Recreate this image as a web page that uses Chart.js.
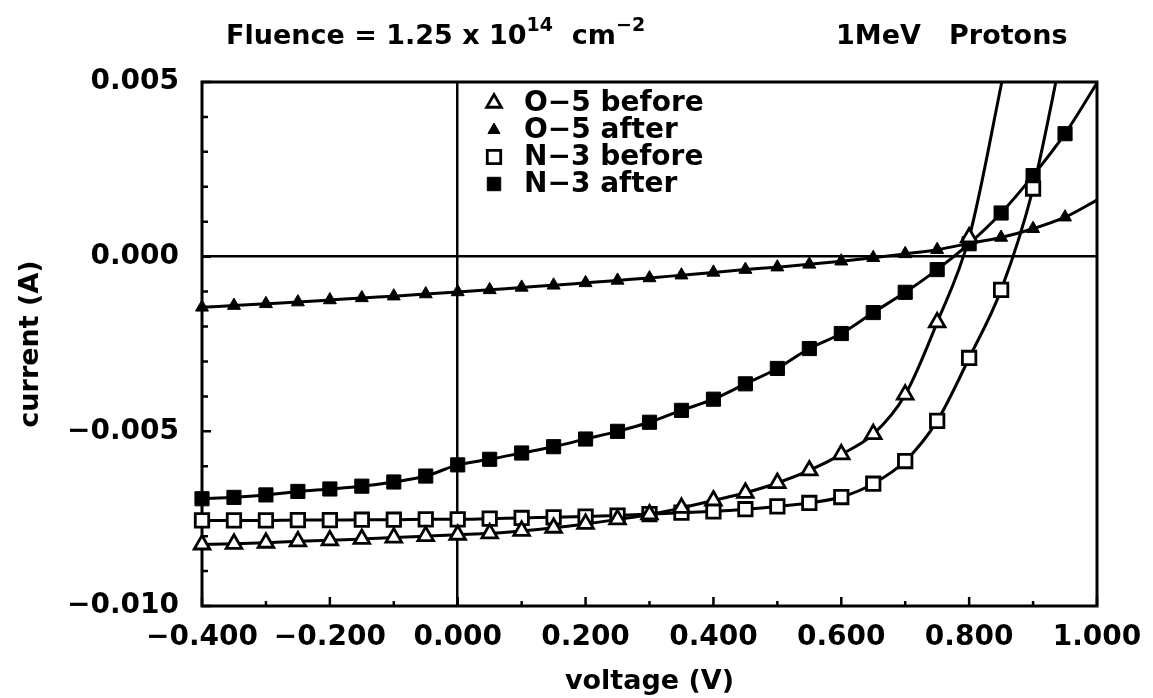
<!DOCTYPE html>
<html>
<head>
<meta charset="utf-8">
<title>I-V curves, 1MeV protons</title>
<script src="https://cdn.jsdelivr.net/npm/chart.js@4.4.1/dist/chart.umd.min.js"></script>
<style>
  html, body { margin: 0; padding: 0; background: #fff; }
  #wrap { position: relative; width: 1153px; height: 698px; }
  #wrap canvas { position: absolute; left: 0; top: 0; }
  .title { position: absolute; top: 19px; font: bold 27px "DejaVu Sans", sans-serif; color: #000; white-space: pre; z-index: 2; }
  .title sup { font-size: 19px; vertical-align: 0; position: relative; top: -13px; }
</style>
</head>
<body>
<div id="wrap">
  <canvas id="ivChart"></canvas>
  <div class="title" style="left:226px">Fluence = 1.25 x 10<sup>14</sup>  cm<sup>−2</sup></div>
  <div class="title" style="left:836px">1MeV   Protons</div>
</div>
<script>
// ── Data (current in A) ────────────────────────────────────────────────────

const VOLTAGE = [
  -0.40, -0.35, -0.30, -0.25, -0.20, -0.15, -0.10, -0.05, 0.00, 0.05,
   0.10,  0.15,  0.20,  0.25,  0.30,  0.35,  0.40,  0.45, 0.50, 0.55,
   0.60,  0.65,  0.70,  0.75,  0.80,  0.85,  0.90,  0.95, 1.00,
];

const O5_BEFORE = [
  -0.00824, -0.00822, -0.00819, -0.00815, -0.00812, -0.00808, -0.00804, -0.00800, -0.00796, -0.00792,
  -0.00785, -0.00776, -0.00765, -0.00752, -0.00738, -0.00719, -0.00698, -0.00676, -0.00648, -0.00612,
  -0.00566, -0.00508, -0.00395, -0.00188,  0.00055,  0.00490,  0.00950, null, null,
];

const O5_AFTER = [
  -0.00145, -0.00140, -0.00135, -0.00130, -0.00124, -0.00118, -0.00113, -0.00107, -0.00101, -0.00095,
  -0.00088, -0.00082, -0.00075, -0.00068, -0.00061, -0.00053, -0.00045, -0.00037, -0.00030, -0.00022,
  -0.00013, -0.00003,  0.00008,  0.00020,  0.00038,  0.00055,  0.00080,  0.00113,  0.00162,
];

const N3_BEFORE = [
  -0.00755, -0.00755, -0.00755, -0.00754, -0.00754, -0.00753, -0.00753, -0.00752, -0.00752, -0.00750,
  -0.00748, -0.00746, -0.00744, -0.00741, -0.00737, -0.00733, -0.00729, -0.00723, -0.00715, -0.00705,
  -0.00688, -0.00650, -0.00585, -0.00470, -0.00290, -0.00095,  0.00195,  0.00630, null,
];

const N3_AFTER = [
  -0.00693, -0.00689, -0.00682, -0.00672, -0.00665, -0.00657, -0.00645, -0.00628, -0.00596, -0.00580,
  -0.00562, -0.00544, -0.00522, -0.00500, -0.00474, -0.00440, -0.00408, -0.00364, -0.00320, -0.00263,
  -0.00220, -0.00160, -0.00102, -0.00037,  0.00037,  0.00125,  0.00232,  0.00352,  0.00497,
];

// last voltage carrying a marker; the fitted curve goes on past it
const LAST_MARKED = { o5b: 0.80, o5a: 0.95, n3b: 0.90, n3a: 0.95 };

const FONT = '"DejaVu Sans", sans-serif';
const BLACK = '#000';

const toPoints = arr => VOLTAGE.map((v, i) => ({ x: v, y: arr[i] })).filter(p => p.y !== null);
const minus = s => s.replace('-', '\u2212');
const isZero = v => Math.abs(v) < 1e-9;

function series(label, values, style, filled, radius, lastMarked) {
  return {
    label,
    data: toPoints(values),
    borderColor: BLACK,
    borderWidth: 3,
    cubicInterpolationMode: 'monotone',
    pointStyle: style,
    pointBackgroundColor: filled ? BLACK : '#fff',
    pointBorderColor: BLACK,
    pointBorderWidth: filled ? 1 : 2.8,
    pointRadius: ctx => (VOLTAGE[ctx.dataIndex] > lastMarked + 1e-9 ? 0 : radius),
    pointHoverRadius: 0,
    clip: { left: 14, top: 0, right: 1, bottom: 0 },
  };
}

// ── Frame + inward tick marks ──────────────────────────────────────────────

const frameTicks = {
  id: 'frameTicks',
  beforeDatasetsDraw(chart) {
    const { ctx, chartArea: a, scales: { x, y } } = chart;
    ctx.save();
    ctx.strokeStyle = BLACK;
    ctx.lineWidth = 2.5;
    ctx.beginPath();
    x.ticks.forEach(t => {
      const px = x.getPixelForValue(t.value);
      ctx.moveTo(px, a.bottom);
      ctx.lineTo(px, a.bottom - (t.label ? 9 : 5));
    });
    y.ticks.forEach(t => {
      const py = y.getPixelForValue(t.value);
      ctx.moveTo(a.left, py);
      ctx.lineTo(a.left + (t.label ? 9 : 6), py);
    });
    ctx.stroke();
    ctx.lineWidth = 3;
    ctx.strokeRect(a.left, a.top, a.right - a.left, a.bottom - a.top);
    ctx.restore();
  },
};

// ── Legend inside the plot, top centre ─────────────────────────────────────

function legendMarker(ctx, style, filled, cx, cy, r) {
  ctx.beginPath();
  if (style === 'triangle') {
    ctx.moveTo(cx, cy - r);
    ctx.lineTo(cx + r * 0.866, cy + r / 2);
    ctx.lineTo(cx - r * 0.866, cy + r / 2);
    ctx.closePath();
  } else {
    const h = r * 0.707;
    ctx.rect(cx - h, cy - h, 2 * h, 2 * h);
  }
  ctx.fillStyle = filled ? BLACK : '#fff';
  ctx.fill();
  ctx.lineWidth = filled ? 1 : 2.8;
  ctx.strokeStyle = BLACK;
  ctx.stroke();
}

const insideLegend = {
  id: 'insideLegend',
  afterDatasetsDraw(chart) {
    const { ctx, chartArea: a } = chart;
    ctx.save();
    ctx.font = `bold 28px ${FONT}`;
    ctx.textBaseline = 'middle';
    ctx.textAlign = 'left';
    chart.data.datasets.forEach((ds, i) => {
      const cy = a.top + 21 + i * 27;
      const cx = a.left + 292;
      const filled = ds.pointBackgroundColor === BLACK;
      legendMarker(ctx, ds.pointStyle, filled, cx, cy, ds.pointStyle === 'triangle' ? (filled ? 7 : 8.5) : 9.5);
      ctx.fillStyle = BLACK;
      ctx.fillText(ds.label, cx + 30, cy + 1);
    });
    ctx.restore();
  },
};

// ── Chart ──────────────────────────────────────────────────────────────────

const zeroGrid = {
  drawTicks: false,
  lineWidth: 2.5,
  color: ctx => (ctx.tick && isZero(ctx.tick.value) ? BLACK : 'rgba(0,0,0,0)'),
};
const tickFont = { family: FONT, size: 28, weight: 'bold' };
const titleFont = { family: FONT, size: 27, weight: 'bold' };

new Chart(document.getElementById('ivChart'), {
  type: 'line',
  data: {
    datasets: [
      series('O\u22125 before', O5_BEFORE, 'triangle', false, 9,    LAST_MARKED.o5b),
      series('O\u22125 after',  O5_AFTER,  'triangle', true,  7.5,  LAST_MARKED.o5a),
      series('N\u22123 before', N3_BEFORE, 'rect',     false, 9.5,  LAST_MARKED.n3b),
      series('N\u22123 after',  N3_AFTER,  'rect',     true,  10,   LAST_MARKED.n3a),
    ],
  },
  options: {
    responsive: true, maintainAspectRatio: false, animation: false,
    layout: { padding: { top: 82, right: 56, left: 0, bottom: 0 } },
    plugins: { legend: { display: false }, tooltip: { enabled: false } },
    scales: {
      x: {
        type: 'linear', min: -0.4, max: 1.0,
        afterFit: s => { s.height = 92; s.paddingRight = 0; },
        border: { display: false },
        grid: zeroGrid,
        ticks: {
          stepSize: 0.1, autoSkip: false, maxRotation: 0, minRotation: 0, padding: 15,
          color: BLACK, font: tickFont,
          callback: v => (Math.round(v * 10) % 2 === 0 ? minus((isZero(v) ? 0 : v).toFixed(3)) : ''),
        },
        title: { display: true, text: 'voltage (V)', color: BLACK, font: titleFont, padding: { top: 0, bottom: 0 } },
      },
      y: {
        min: -0.010, max: 0.005,
        afterFit: s => { s.width = 202; },
        border: { display: false },
        grid: zeroGrid,
        ticks: {
          stepSize: 0.001, autoSkip: false, padding: 23,
          color: BLACK, font: tickFont,
          callback: v => (Math.round(v * 1000) % 5 === 0 ? minus((isZero(v) ? 0 : v).toFixed(3)) : ''),
        },
        title: { display: true, text: 'current (A)', color: BLACK, font: titleFont, padding: { top: 15, bottom: 0 } },
      },
    },
  },
  plugins: [frameTicks, insideLegend],
});
</script>
</body>
</html>
